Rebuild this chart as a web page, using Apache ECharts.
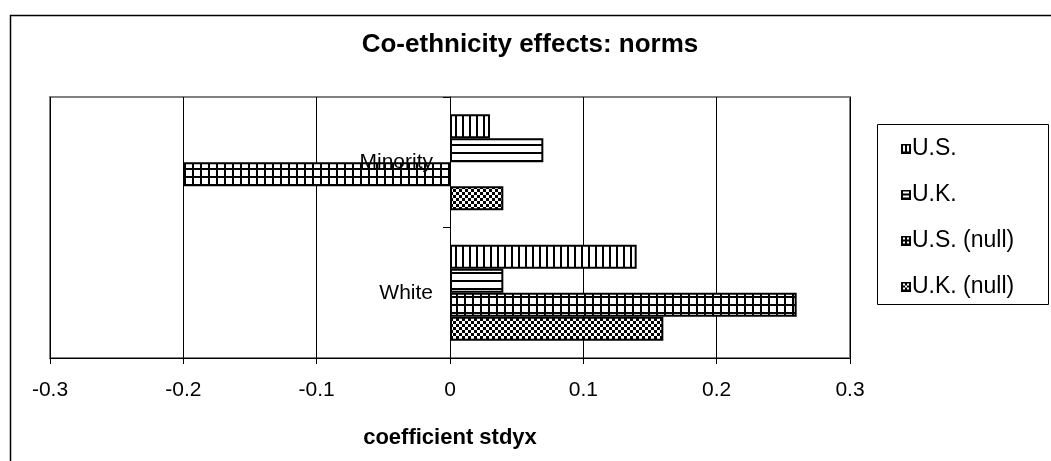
<!DOCTYPE html>
<html>
<head>
<meta charset="utf-8">
<script src="https://cdn.jsdelivr.net/npm/echarts@6/dist/echarts.min.js"></script>
<style>
html,body{margin:0;padding:0;background:#fff;}
#chart{width:1051px;height:461px;}
</style>
</head>
<body>
<div id="chart"></div>
<script>
const categories = ['Minority', 'White'];
const seriesNames = ['U.S.', 'U.K.', 'U.S. (null)', 'U.K. (null)'];
const usValues = [0.03, 0.14];
const ukValues = [0.07, 0.04];
const usNullValues = [-0.20, 0.26];
const ukNullValues = [0.04, 0.16];
const xTicks = [-0.3, -0.2, -0.1, 0, 0.1, 0.2, 0.3];

function makePattern(kind) {
  const c = document.createElement('canvas');
  const ctx = c.getContext('2d');
  if (kind === 'vlines') {
    c.width = 7; c.height = 8;
    ctx.fillStyle = '#fff'; ctx.fillRect(0, 0, 7, 8);
    ctx.fillStyle = '#000'; ctx.fillRect(0, 0, 2, 8);
  } else if (kind === 'hlines') {
    c.width = 8; c.height = 8;
    ctx.fillStyle = '#fff'; ctx.fillRect(0, 0, 8, 8);
    ctx.fillStyle = '#000'; ctx.fillRect(0, 0, 8, 2);
  } else if (kind === 'grid') {
    c.width = 8; c.height = 8;
    ctx.fillStyle = '#fff'; ctx.fillRect(0, 0, 8, 8);
    ctx.fillStyle = '#000'; ctx.fillRect(0, 0, 8, 2); ctx.fillRect(0, 0, 2, 8);
  } else {
    c.width = 6; c.height = 6;
    ctx.fillStyle = '#fff'; ctx.fillRect(0, 0, 6, 6);
    ctx.fillStyle = '#000'; ctx.fillRect(0, 0, 3, 3); ctx.fillRect(3, 3, 3, 3);
  }
  return { image: c, repeat: 'repeat' };
}

function makeIcon(kind) {
  const s = 10;
  const c = document.createElement('canvas');
  c.width = s; c.height = s;
  const ctx = c.getContext('2d');
  ctx.fillStyle = kind === 'checker' ? '#000' : '#fff';
  ctx.fillRect(0, 0, s, s);
  ctx.fillStyle = '#000';
  ctx.fillRect(0, 0, s, 2); ctx.fillRect(0, s - 2, s, 2);
  ctx.fillRect(0, 0, 2, s); ctx.fillRect(s - 2, 0, 2, s);
  if (kind === 'vlines' || kind === 'grid') ctx.fillRect(4, 0, 2, s);
  if (kind === 'hlines' || kind === 'grid') ctx.fillRect(0, 4, s, 2);
  if (kind === 'checker') {
    ctx.fillStyle = '#fff';
    [[2, 2], [6, 2], [4, 4], [2, 6], [6, 6]].forEach(p => ctx.fillRect(p[0], p[1], 2, 2));
  }
  return 'image://' + c.toDataURL();
}

const kinds = ['vlines', 'hlines', 'grid', 'checker'];
const patterns = kinds.map(makePattern);
const icons = kinds.map(makeIcon);
const dataSets = [usValues, ukValues, usNullValues, ukNullValues];

const chart = echarts.init(document.getElementById('chart'), null, { renderer: 'canvas' });
const FONT = 'Liberation Sans, Arial, sans-serif';

const barSeries = seriesNames.map((name, i) => ({
  name: name, type: 'bar', z: 2,
  data: dataSets[i],
  barWidth: 24, barGap: '0%',
  itemStyle: { color: patterns[i], borderColor: '#000', borderWidth: 2 }
}));

const labelSeries = {
  type: 'scatter', z: 20, silent: true,
  symbolSize: 0,
  itemStyle: { opacity: 1 },
  data: categories.map(c => [0, c]),
  label: {
    show: true, position: 'left', distance: 17,
    fontFamily: FONT, fontSize: 21, color: '#000', opacity: 1,
    formatter: p => p.value[1]
  },
  emphasis: { disabled: true },
  tooltip: { show: false }
};

chart.setOption({
  animation: false,
  backgroundColor: '#fff',
  textStyle: { fontFamily: FONT },
  title: {
    text: 'Co-ethnicity effects: norms',
    left: 530, top: 32, textAlign: 'center', padding: 0,
    textStyle: { fontFamily: FONT, fontSize: 26, fontWeight: 'bold', color: '#000' }
  },
  graphic: [
    { type: 'rect', left: 8, top: 13, shape: { width: 1044, height: 500 }, style: { fill: 'none', stroke: '#000', lineWidth: 1.5 }, silent: true, z: -10 },
    { type: 'rect', left: 877, top: 124, shape: { width: 171, height: 180 }, style: { fill: '#fff', stroke: '#000', lineWidth: 1 }, silent: true, z: -5 }
  ],
  legend: {
    orient: 'vertical',
    left: 901, top: 137, padding: 0,
    itemWidth: 10, itemHeight: 10,
    itemGap: 23,
    textStyle: { fontFamily: FONT, fontSize: 23, lineHeight: 22, color: '#000', padding: [0, 0, 0, -4] },
    data: seriesNames.map((n, i) => ({ name: n, icon: icons[i] }))
  },
  grid: {
    left: 50, right: 201, top: 97, bottom: 103,
    containLabel: false, outerBoundsMode: 'none',
    show: true, borderColor: '#808080', borderWidth: 2, backgroundColor: '#fff'
  },
  xAxis: {
    type: 'value', min: -0.3, max: 0.3, interval: 0.1,
    axisLine: { show: true, lineStyle: { color: '#000', width: 1 } },
    axisTick: { show: true, length: 6, lineStyle: { color: '#000' } },
    splitLine: { show: true, lineStyle: { color: '#000', width: 1 } },
    axisLabel: {
      fontFamily: FONT, fontSize: 21, color: '#000', margin: 22,
      formatter: function (v) {
        const r = Math.round(v * 10) / 10;
        const t = xTicks.find(x => Math.abs(x - r) < 1e-9);
        return t === 0 ? '0' : t.toFixed(1);
      }
    },
    name: 'coefficient stdyx', nameLocation: 'middle', nameGap: 69,
    nameTextStyle: { fontFamily: FONT, fontSize: 22, fontWeight: 'bold', color: '#000' }
  },
  yAxis: {
    type: 'category', data: categories, inverse: true,
    offset: -400,
    axisLine: { show: true, onZero: false, lineStyle: { color: '#000', width: 1 } },
    axisTick: { show: true, length: 7, lineStyle: { color: '#000' } },
    axisLabel: { show: false },
    splitLine: { show: false }
  },
  series: barSeries.concat([labelSeries])
});
</script>
</body>
</html>
